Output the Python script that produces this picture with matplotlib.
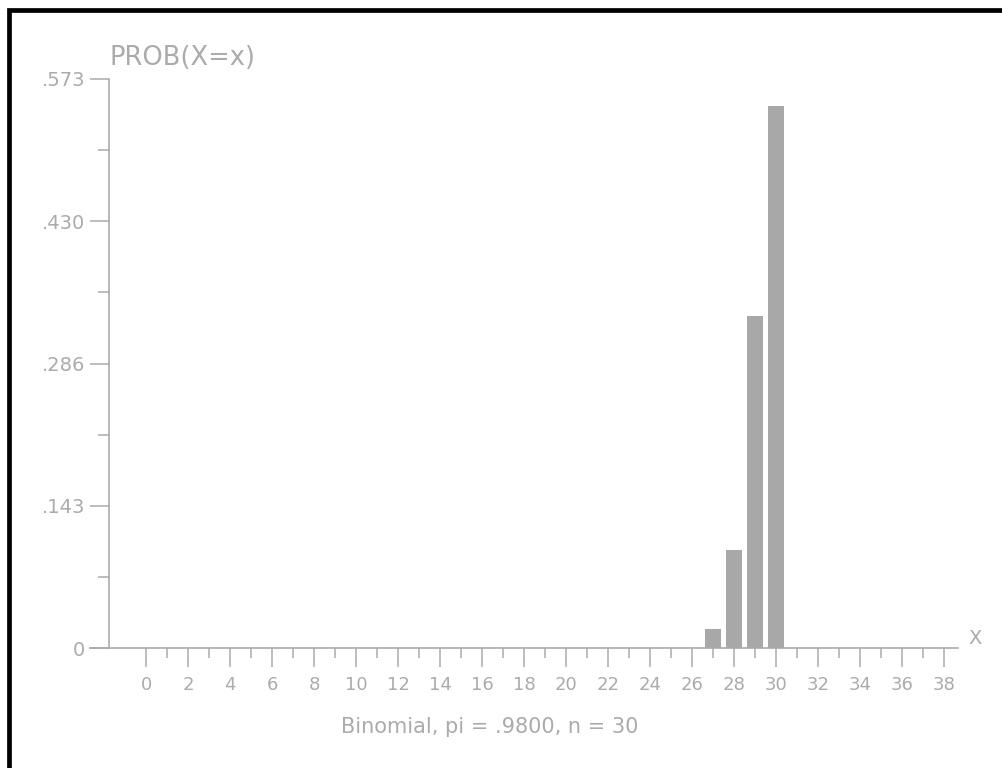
import numpy as np
import matplotlib.pyplot as plt
from matplotlib.patches import Rectangle
from matplotlib.ticker import FixedLocator

# Binomial distribution, pi = .98, n = 30 (only x >= 27 is visible)
x_vals = [27, 28, 29, 30]
probs = [0.0188, 0.0988, 0.3340, 0.5455]
y_ticks = [0, 0.143, 0.286, 0.430, 0.573]
y_labels = ["0", ".143", ".286", ".430", ".573"]
x_ticks = list(range(0, 39, 2))
x_minor = list(range(1, 38, 2))

gray = "#ababab"
bar_color = "#a8a8a8"
plt.rcParams["font.family"] = ["DejaVu Sans"]

W, H = 1003, 768
fig = plt.figure(figsize=(W / 100, H / 100), dpi=100)

# outer black frame (runs off the right and bottom edges)
fig.patches.append(Rectangle((9.5 / W, -0.1), 1.2, (H - 9.5) / H + 0.1,
                             transform=fig.transFigure, fill=False,
                             edgecolor="black", linewidth=3.4))

# axes area in pixels: x 109..958, y 79..648
ax = fig.add_axes([109 / W, (H - 648) / H, (958 - 109) / W, (648 - 79) / H])
px = 21.0  # pixels per x unit
ax.set_xlim((109 - 146) / px, (958 - 146) / px)
ax.set_ylim(0, 0.573)

ax.bar(x_vals, probs, width=0.78, color=bar_color, edgecolor="none", zorder=2)

for s in ["top", "right"]:
    ax.spines[s].set_visible(False)
for s in ["left", "bottom"]:
    ax.spines[s].set_color(gray)
    ax.spines[s].set_linewidth(1.2)

# axis line runs a bit left of the y axis
ax.plot([(89 - 146) / px, (109 - 146) / px], [0, 0], color=gray, lw=1.2,
        clip_on=False, solid_capstyle="butt")

ax.yaxis.set_major_locator(FixedLocator(y_ticks))
ax.set_yticklabels(y_labels)
ax.yaxis.set_minor_locator(FixedLocator([0.0715, 0.2145, 0.358, 0.5015]))
ax.xaxis.set_major_locator(FixedLocator(x_ticks))
ax.xaxis.set_minor_locator(FixedLocator(x_minor))

ax.tick_params(axis="y", which="major", length=14, width=1.1, color=gray,
               labelcolor=gray, labelsize=14, pad=3)
ax.tick_params(axis="y", which="minor", length=8, width=1.1, color=gray)
ax.tick_params(axis="x", which="major", length=14, width=1.1, color=gray,
               labelcolor=gray, labelsize=13, pad=6)
ax.tick_params(axis="x", which="minor", length=7.5, width=1.1, color=gray)

fig.text(110 / W, (H - 58) / H, "PROB(X=x)", color=gray, fontsize=18.5,
         ha="left", va="center")
fig.text(975 / W, (H - 639) / H, "X", color=gray, fontsize=14,
         ha="center", va="center")
fig.text(490 / W, (H - 727) / H, "Binomial, pi = .9800, n = 30", color=gray,
         fontsize=15, ha="center", va="center")

fig.savefig("out.png", dpi=100)
